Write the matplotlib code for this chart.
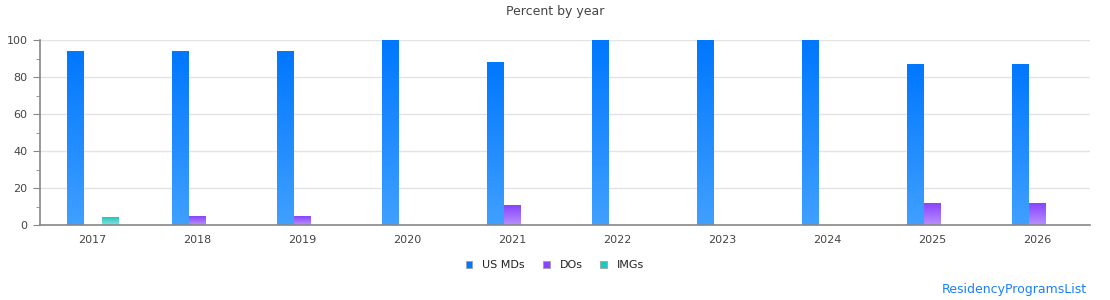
import numpy as np
import matplotlib.pyplot as plt
from matplotlib.colors import LinearSegmentedColormap
from matplotlib.patches import Patch
from matplotlib.ticker import MultipleLocator

years = ["2017", "2018", "2019", "2020", "2021", "2022", "2023", "2024", "2025", "2026"]
us_mds = [94, 94, 94, 100, 88, 100, 100, 100, 87, 87]
dos = [0, 4.5, 4.5, 0, 10.5, 0, 0, 0, 11.5, 11.5]
imgs = [4.3, 0, 0, 0, 0, 0, 0, 0, 0, 0]

series = [
    ("US MDs", us_mds, "#0077ff", "#40a0ff"),
    ("DOs", dos, "#8844ff", "#b890ff"),
    ("IMGs", imgs, "#1ec8c0", "#8ee0dc"),
]

fig = plt.figure(figsize=(11.1, 3.0), dpi=100)
ax = fig.add_axes([40 / 1110, 75 / 300, 1050 / 1110, 185 / 300])

x = np.arange(len(years))
width = 0.155
gap = 0.01
grad = np.linspace(1, 0, 256).reshape(-1, 1)

for i, (name, vals, top, bottom) in enumerate(series):
    cmap = LinearSegmentedColormap.from_list(name, [bottom, top])
    offset = (i - 1) * (width + gap)
    for xi, v in zip(x, vals):
        if v <= 0:
            continue
        x0 = xi + offset - width / 2
        ax.imshow(grad, cmap=cmap, aspect="auto", extent=(x0, x0 + width, 0, v),
                  zorder=3, interpolation="bilinear", vmin=0, vmax=1)

ax.set_xlim(-0.5, len(years) - 0.5)
ax.set_ylim(0, 100)
ax.set_xticks(x)
ax.set_xticklabels(years)
ax.yaxis.set_major_locator(MultipleLocator(20))
ax.yaxis.set_minor_locator(MultipleLocator(10))
ax.tick_params(axis="x", length=0, pad=7, labelsize=8, colors="#444444")
ax.tick_params(axis="y", which="major", length=5, pad=4, color="#888888", labelsize=8, labelcolor="#444444")
ax.tick_params(axis="y", which="minor", length=3, color="#888888")
ax.grid(axis="y", color="#e3e3e3", linewidth=1, zorder=0)
ax.set_axisbelow(True)
for s in ["top", "right"]:
    ax.spines[s].set_visible(False)
for s in ["left", "bottom"]:
    ax.spines[s].set_color("#888888")
    ax.spines[s].set_linewidth(1.2)
ax.spines["bottom"].set_zorder(4)

fig.text(0.5, 1 - 12 / 300, "Percent by year", ha="center", va="center",
         fontsize=9, color="#444444")

handles = [Patch(facecolor=top, edgecolor="#999999", linewidth=0.5, label=name)
           for name, _, top, _ in series]
fig.legend(handles=handles, loc="center", bbox_to_anchor=(0.5, 1 - 265 / 300),
           ncol=3, frameon=False, fontsize=8, handlelength=0.6, handleheight=0.6,
           columnspacing=1.6, handletextpad=0.9, labelcolor="#222222")

fig.text(1087 / 1110, 1 - 290 / 300, "ResidencyProgramsList", ha="right", va="center",
         fontsize=9, color="#1a7fff")

fig.savefig("out.png", dpi=100)
